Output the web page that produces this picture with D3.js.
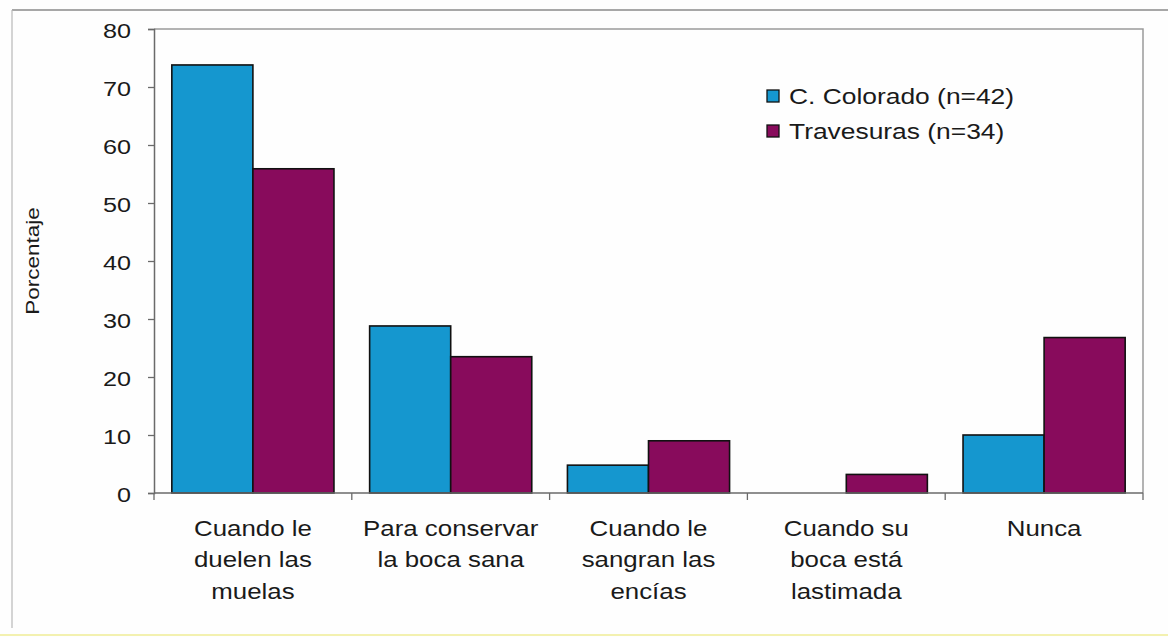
<!DOCTYPE html>
<html>
<head>
<meta charset="utf-8">
<script src="https://cdn.jsdelivr.net/npm/d3@7/dist/d3.min.js"></script>
<style>
  html, body { margin: 0; padding: 0; background: #fff; }
  svg { display: block; }
  text { font-family: "Liberation Sans", Arial, sans-serif; fill: #1a1a1a; }
</style>
</head>
<body>
<svg id="chart" width="1168" height="637"></svg>
<script>
// Categories (multi-line labels) and series values (%)
const categories = [
  ["Cuando le", "duelen las", "muelas"],
  ["Para conservar", "la boca sana"],
  ["Cuando le", "sangran las", "encías"],
  ["Cuando su", "boca está", "lastimada"],
  ["Nunca"]
];
const seriesNames = ["C. Colorado (n=42)", "Travesuras (n=34)"];
const coloradoValues = [73.8, 28.8, 4.8, 0, 10.0];
const travesurasValues = [55.9, 23.5, 9.0, 3.2, 26.8];
const yTicks = [0, 10, 20, 30, 40, 50, 60, 70, 80];
const yTitle = "Porcentaje";
const colors = ["#1597cf", "#880b5c"];

const svg = d3.select("#chart");
const W = 1168, H = 637;
const plot = { left: 154, right: 1143, top: 29, bottom: 493 };
const stretch = 1.2; // wide glyph rendering of the labels

// Outer frame of the figure
svg.append("rect").attr("width", W).attr("height", H).attr("fill", "#fefefe");
svg.append("line").attr("x1", 12).attr("x2", W).attr("y1", 10).attr("y2", 10)
  .attr("stroke", "#8a8a8a").attr("stroke-width", 1.5);
svg.append("line").attr("x1", 12).attr("x2", 12).attr("y1", 10).attr("y2", 628)
  .attr("stroke", "#b8b8b8").attr("stroke-width", 1.2);
svg.append("line").attr("x1", 0).attr("x2", W).attr("y1", 635).attr("y2", 635)
  .attr("stroke", "#f3f1b0").attr("stroke-width", 2);

const idx = d3.range(categories.length);
const x0 = d3.scaleBand().domain(idx).range([plot.left, plot.right]).padding(0);
const x1 = d3.scaleBand().domain([0, 1]).range([0, x0.bandwidth()])
  .paddingInner(0).paddingOuter(0.22);
const y = d3.scaleLinear().domain([0, 80]).range([plot.bottom, plot.top]);

// Plot area border (top and right)
svg.append("path")
  .attr("d", `M${plot.left},${plot.top}H${plot.right}V${plot.bottom}`)
  .attr("fill", "none").attr("stroke", "#9a9a9a").attr("stroke-width", 1.5);

// Bars
const rows = idx.map(i => [coloradoValues[i], travesurasValues[i]]);
const groups = svg.append("g").selectAll("g").data(rows).join("g")
  .attr("transform", (d, i) => `translate(${x0(i)},0)`);
groups.selectAll("rect").data(d => d.map((v, s) => ({ v, s })))
  .join("rect")
  .filter(d => d.v > 0)
  .attr("x", d => x1(d.s))
  .attr("width", x1.bandwidth())
  .attr("y", d => y(d.v))
  .attr("height", d => y(0) - y(d.v))
  .attr("fill", d => colors[d.s])
  .attr("stroke", "#111")
  .attr("stroke-width", 1.6);

// Y axis
const yAxis = svg.append("g").attr("transform", `translate(${plot.left},0)`)
  .call(d3.axisLeft(y).tickValues(yTicks).tickSize(6).tickPadding(0).tickFormat(d3.format("d")));
yAxis.select(".domain").attr("stroke", "#6a6a6a").attr("stroke-width", 1.5);
yAxis.selectAll(".tick line").attr("stroke", "#6a6a6a").attr("stroke-width", 1.3);
yAxis.selectAll(".tick text")
  .attr("x", null).attr("dy", null)
  .style("font-size", "21px").attr("fill", "#1a1a1a")
  .attr("text-anchor", "end")
  .attr("transform", `translate(-23,8) scale(${stretch},1)`);

// X axis: ticks at category boundaries
const xAxis = svg.append("g").attr("transform", `translate(0,${plot.bottom})`);
xAxis.append("line").attr("x1", plot.left).attr("x2", plot.right)
  .attr("stroke", "#6a6a6a").attr("stroke-width", 1.5);
xAxis.selectAll("line.tk").data(d3.range(categories.length + 1)).join("line")
  .attr("class", "tk")
  .attr("x1", i => plot.left + i * x0.step()).attr("x2", i => plot.left + i * x0.step())
  .attr("y1", 0).attr("y2", 7)
  .attr("stroke", "#6a6a6a").attr("stroke-width", 1.3);

// Category labels
const catLabels = svg.append("g").selectAll("text").data(categories).join("text")
  .attr("transform", (d, i) => `translate(${x0(i) + x0.bandwidth() / 2},536) scale(${stretch * 0.98},1)`)
  .attr("text-anchor", "middle")
  .style("font-size", "22px");
catLabels.selectAll("tspan").data(d => d).join("tspan")
  .attr("x", 0).attr("dy", (d, j) => j === 0 ? 0 : 31.5)
  .text(d => d);

// Y title
svg.append("text")
  .attr("transform", `translate(39,261) rotate(-90) scale(1.25,1)`)
  .attr("text-anchor", "middle")
  .style("font-size", "18px")
  .text(yTitle);

// Legend
const legend = svg.append("g").attr("transform", "translate(767,90)");
const items = legend.selectAll("g").data(seriesNames).join("g")
  .attr("transform", (d, i) => `translate(0,${i * 35})`);
items.append("rect").attr("width", 12).attr("height", 12)
  .attr("fill", (d, i) => colors[i]).attr("stroke", "#111").attr("stroke-width", 1.3);
items.append("text")
  .attr("transform", `translate(22,14) scale(${stretch},1)`)
  .style("font-size", "22px")
  .text(d => d);
</script>
</body>
</html>
